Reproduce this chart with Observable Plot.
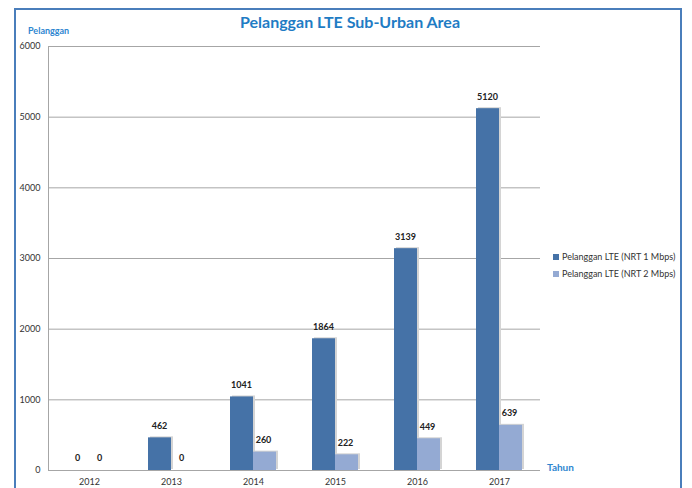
<!DOCTYPE html>
<html>
<head>
<meta charset="utf-8">
<script src="https://cdn.jsdelivr.net/npm/d3@7"></script>
<script src="https://cdn.jsdelivr.net/npm/@observablehq/plot@0.6"></script>
<style>
  body { margin: 0; background: #fff; }
  #wrap { position: relative; width: 692px; height: 488px; overflow: hidden; background: #fff; font-family: Lato, "Open Sans", sans-serif; }
  #frame { position: absolute; left: 14px; top: 8px; width: 668px; height: 520px; border: 2px solid #4a7ebb; box-sizing: border-box; }
  #chart { position: absolute; left: 0; top: 0; }
  .title { position: absolute; left: 0; width: 700px; top: 12px; text-align: center; color: #1f7cc4; font-weight: bold; font-size: 16px; }
  .ylab { position: absolute; left: 28px; top: 25px; color: #2e86d0; font-weight: bold; font-size: 9px; }
  .xlab { position: absolute; left: 547px; top: 461px; color: #2e86d0; font-weight: bold; font-size: 10px; }
  .legend { position: absolute; left: 553px; font-size: 9px; color: #333; white-space: nowrap; }
  .legend span.sw { display: inline-block; width: 6px; height: 6px; margin-right: 3px; vertical-align: 0px; }
</style>
</head>
<body>
<div id="wrap">
  <div id="chart"></div>
  <div id="frame"></div>
  <div class="title">Pelanggan LTE Sub-Urban Area</div>
  <div class="ylab">Pelanggan</div>
  <div class="xlab">Tahun</div>
</div>
<script>
const years = ["2012", "2013", "2014", "2015", "2016", "2017"];
const seriesNames = ["Pelanggan LTE (NRT 1 Mbps)", "Pelanggan LTE (NRT 2 Mbps)"];
const nrt1 = [0, 462, 1041, 1864, 3139, 5120];
const nrt2 = [0, 0, 260, 222, 449, 639];
const yTicks = [0, 1000, 2000, 3000, 4000, 5000, 6000];
const colors = ["#4572a7", "#94aad3"];

const d1 = years.map((y, i) => ({year: y, value: nrt1[i]}));
const d2 = years.map((y, i) => ({year: y, value: nrt2[i]}));

const chart = Plot.plot({
  width: 692,
  height: 488,
  marginLeft: 48,
  marginRight: 152,
  marginTop: 46,
  marginBottom: 18,
  style: {fontFamily: "Lato, 'Open Sans', sans-serif", fontSize: "9px", color: "#333", background: "transparent"},
  x: {domain: years, padding: 0, label: null, tickSize: 0, tickPadding: 8},
  y: {domain: [0, 6000], ticks: yTicks, tickSize: 0, tickPadding: 8, label: null, tickFormat: d => String(d)},
  marks: [
    Plot.ruleY(yTicks, {stroke: "#a6a6a6", strokeWidth: 1}),
    Plot.ruleX([years[0]], {dx: -41, stroke: "#a6a6a6"}),
    // shadows
    Plot.barY(d1, {x: "year", y: "value", fill: "#d4d4d4", insetLeft: 18, insetRight: 41, dx: 2, dy: -1}),
    Plot.barY(d2, {x: "year", y: "value", fill: "#d4d4d4", insetLeft: 41, insetRight: 18, dx: 2, dy: -1}),
    // bars
    Plot.barY(d1, {x: "year", y: "value", fill: colors[0], insetLeft: 18, insetRight: 41}),
    Plot.barY(d2, {x: "year", y: "value", fill: colors[1], insetLeft: 41, insetRight: 18}),
    // labels
    Plot.text(d1, {x: "year", y: "value", text: d => String(d.value), dx: -12, dy: -12, fontWeight: "bold", fill: "#222", fontSize: 9}),
    Plot.text(d2, {x: "year", y: "value", text: d => String(d.value), dx: 10, dy: -12, fontWeight: "bold", fill: "#222", fontSize: 9})
  ]
});
document.getElementById("chart").appendChild(chart);

seriesNames.forEach((name, i) => {
  const row = document.createElement("div");
  row.className = "legend";
  row.style.top = (251 + i * 17) + "px";
  row.innerHTML = `<span class="sw" style="background:${colors[i]}"></span>${name}`;
  document.getElementById("wrap").appendChild(row);
});
</script>
</body>
</html>
